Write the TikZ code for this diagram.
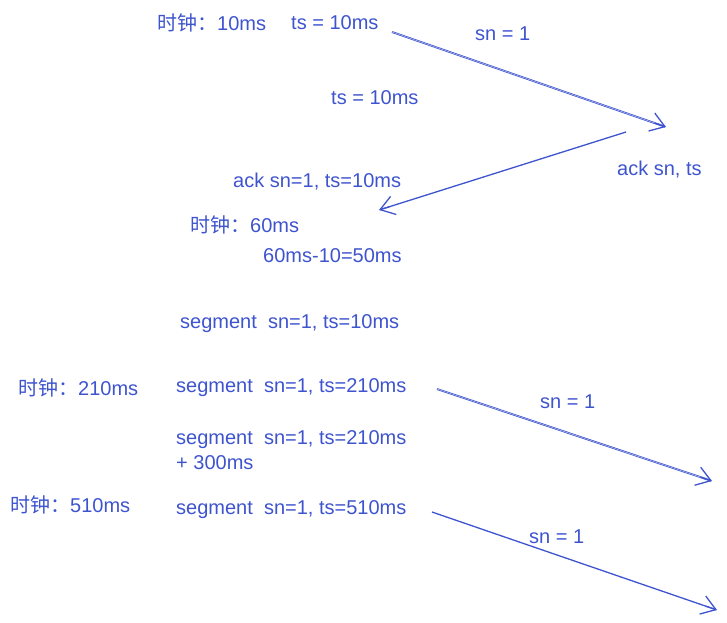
\documentclass[tikz,border=0pt]{standalone}
\usepackage{fontspec}
\setmainfont{Liberation Sans}
\newfontfamily\cjk{Noto Sans CJK SC}
\usetikzlibrary{arrows.meta,calc}
\definecolor{ink}{RGB}{62,84,206}
\tikzset{
  lbl/.style={anchor=west,inner sep=0pt,yshift=-2pt,text=ink,font=\fontsize{20}{24}\selectfont},
  shaftd/.style={draw=ink,line width=0.7pt,double=ink!35,double distance=0.5pt},
  shafts/.style={draw=ink,line width=1.3pt},
  tipline/.style={draw=ink,line width=1.2pt,-{Straight Barb[length=14pt,width=19pt,line width=1.3pt]}}
}
\begin{document}
\begin{tikzpicture}[x=1pt,y=-1pt]
\useasboundingbox (0,0) rectangle (727,622);
% labels
\node[lbl] (c10) at (157,21) {{\cjk 时钟：}10ms};
\node[lbl] (ts1) at (291,21) {ts = 10ms};
\node[lbl] (sn1) at (475,32) {sn = 1};
\node[lbl] (ts2) at (331,96) {ts = 10ms};
\node[lbl] (acks) at (617,168) {ack sn, ts};
\node[lbl] (ack1) at (233,180) {ack sn=1, ts=10ms};
\node[lbl] (c60) at (190,223) {{\cjk 时钟：}60ms};
\node[lbl] (d50) at (263,254) {60ms-10=50ms};
\node[lbl] (seg1) at (180,322) {segment\ \ sn=1, ts=10ms};
\node[lbl] (c210) at (18,386) {{\cjk 时钟：}210ms};
\node[lbl] (seg2) at (176,386) {segment\ \ sn=1, ts=210ms};
\node[lbl] (sn2) at (540,400) {sn = 1};
\node[lbl] (seg3) at (176,438) {segment\ \ sn=1, ts=210ms};
\node[lbl] (p300) at (176,461) {+ 300ms};
\node[lbl] (c510) at (10,503) {{\cjk 时钟：}510ms};
\node[lbl] (seg4) at (176,508) {segment\ \ sn=1, ts=510ms};
\node[lbl] (sn3) at (529,535) {sn = 1};
% arrow endpoints
\coordinate (a1s) at (392,32);  \coordinate (a1e) at (666,127);
\coordinate (a2s) at (626,132); \coordinate (a2e) at (379,210);
\coordinate (a3s) at (437,389); \coordinate (a3e) at (712,481);
\coordinate (a4s) at (432,512); \coordinate (a4e) at (717,610);
% shafts
\draw[shaftd] (a1s) -- ($(a1e)!1pt!(a1s)$);
\draw[shafts] (a2s) -- ($(a2e)!1pt!(a2s)$);
\draw[shaftd] (a3s) -- ($(a3e)!1pt!(a3s)$);
\draw[shafts] (a4s) -- ($(a4e)!1pt!(a4s)$);
% tips
\draw[tipline] ($(a1e)!12pt!(a1s)$) -- (a1e);
\draw[tipline] ($(a2e)!12pt!(a2s)$) -- (a2e);
\draw[tipline] ($(a3e)!12pt!(a3s)$) -- (a3e);
\draw[tipline] ($(a4e)!12pt!(a4s)$) -- (a4e);
\end{tikzpicture}
\end{document}
